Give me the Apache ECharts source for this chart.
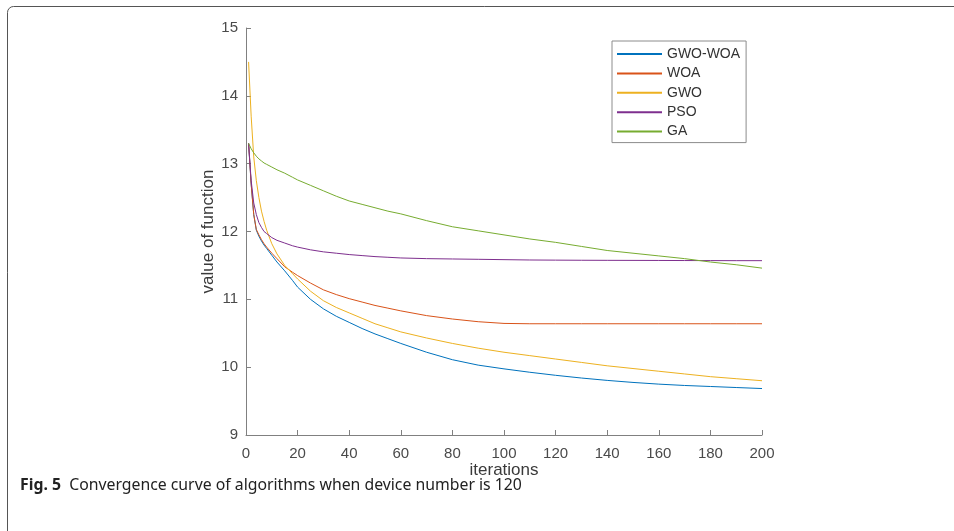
<!DOCTYPE html>
<html>
<head>
<meta charset="utf-8">
<script src="https://cdn.jsdelivr.net/npm/echarts@6/dist/echarts.min.js"></script>
<style>
html,body{margin:0;padding:0;background:#fff;}
#chart{width:954px;height:531px;}
</style>
</head>
<body>
<div id="chart"></div>
<script>
const iterations = [1,2,3,4,5,6,7,8,10,12,15,18,20,25,30,35,40,45,50,55,60,70,80,90,100,110,120,130,140,150,160,170,180,190,200];
const gwoWoa = [13.3,12.7,12.25,12.02,11.93,11.86,11.8,11.75,11.65,11.55,11.42,11.28,11.18,11.0,10.86,10.75,10.66,10.57,10.49,10.42,10.35,10.22,10.11,10.03,9.975,9.925,9.88,9.84,9.805,9.775,9.75,9.73,9.715,9.7,9.685];
const woa = [13.3,12.7,12.25,12.03,11.95,11.88,11.82,11.77,11.68,11.6,11.48,11.4,11.35,11.24,11.14,11.07,11.01,10.96,10.91,10.87,10.83,10.76,10.71,10.67,10.645,10.64,10.64,10.64,10.64,10.64,10.64,10.64,10.64,10.64,10.64];
const gwo = [14.5,13.7,13.1,12.75,12.5,12.3,12.15,12.02,11.82,11.67,11.5,11.38,11.3,11.12,10.98,10.88,10.8,10.72,10.64,10.58,10.52,10.43,10.35,10.28,10.22,10.17,10.12,10.07,10.02,9.98,9.94,9.9,9.86,9.83,9.8];
const pso = [13.3,12.75,12.42,12.25,12.13,12.06,12.0,11.97,11.91,11.87,11.83,11.79,11.77,11.73,11.7,11.68,11.66,11.645,11.63,11.62,11.61,11.6,11.595,11.59,11.585,11.58,11.578,11.576,11.575,11.574,11.573,11.572,11.571,11.57,11.57];
const ga = [13.3,13.22,13.16,13.11,13.07,13.04,13.01,12.99,12.95,12.91,12.86,12.8,12.76,12.68,12.6,12.52,12.45,12.4,12.35,12.3,12.26,12.16,12.07,12.01,11.95,11.89,11.84,11.78,11.72,11.68,11.64,11.6,11.55,11.51,11.46];
const seriesNames = ['GWO-WOA','WOA','GWO','PSO','GA'];
const seriesColors = ['#0072BD','#D95319','#EDB120','#7E2F8E','#77AC30'];
const seriesValues = [gwoWoa, woa, gwo, pso, ga];
const captionBold = 'Fig. 5';
const captionText = 'Convergence curve of algorithms when device number is 120';

const chart = echarts.init(document.getElementById('chart'));
const font = '"Liberation Sans", Arial, Helvetica, sans-serif';
chart.setOption({
  animation: false,
  backgroundColor: '#fff',
  grid: {left: 246, right: 192, top: 28, bottom: 96, containLabel: false},
  xAxis: {
    type: 'value', min: 0, max: 200, interval: 20,
    name: 'iterations', nameLocation: 'middle', nameGap: 27, nameMoveOverlap: false,
    nameTextStyle: {fontFamily: font, fontSize: 17, color: '#3a3a3a'},
    axisLine: {lineStyle: {color: '#808080', width: 1}},
    axisTick: {inside: true, length: 5, lineStyle: {color: '#808080'}},
    axisLabel: {fontFamily: font, fontSize: 15, color: '#4a4a4a', margin: 11},
    splitLine: {show: false}
  },
  yAxis: {
    type: 'value', min: 9, max: 15, interval: 1,
    name: 'value of function', nameLocation: 'middle', nameGap: 29, nameMoveOverlap: false,
    nameTextStyle: {fontFamily: font, fontSize: 17, color: '#3a3a3a'},
    axisLine: {show: true, lineStyle: {color: '#808080', width: 1}},
    axisTick: {show: true, inside: true, length: 5, lineStyle: {color: '#808080'}},
    axisLabel: {fontFamily: font, fontSize: 15, color: '#4a4a4a', margin: 8},
    splitLine: {show: false}
  },
  legend: {
    orient: 'vertical', left: 612, top: 41,
    padding: [6, 6, 4, 5],
    borderColor: '#8c8c8c', borderWidth: 1,
    icon: 'rect',
    itemWidth: 45, itemHeight: 2, itemGap: 5.4,
    textStyle: {fontFamily: font, fontSize: 14, color: '#333', lineHeight: 14},
    data: seriesNames.map((n, i) => ({name: n, itemStyle: {color: seriesColors[i]}}))
  },
  series: seriesNames.map((n, i) => ({
    name: n, type: 'line', symbol: 'none', showSymbol: false,
    smooth: false,
    lineStyle: {color: seriesColors[i], width: 1},
    itemStyle: {color: seriesColors[i]},
    data: iterations.map((x, j) => [x, seriesValues[i][j]])
  })),
  graphic: [
    {type: 'rect', shape: {x: 7.5, y: 6.5, width: 1100, height: 700, r: [6, 0, 0, 0]},
     style: {fill: 'none', stroke: '#555', lineWidth: 1}, silent: true},
    {type: 'text', x: 20, y: 485,
     style: {
       text: '{b|' + captionBold + '}  ' + captionText,
       font: '15.8px "Noto Sans", "Open Sans", sans-serif',
       verticalAlign: 'middle',
       fill: '#222',
       rich: {b: {fontWeight: 'bold', fontSize: 15.8, fontFamily: '"Noto Sans", "Open Sans", sans-serif', fill: '#222'}}
     }}
  ]
});
</script>
</body>
</html>
